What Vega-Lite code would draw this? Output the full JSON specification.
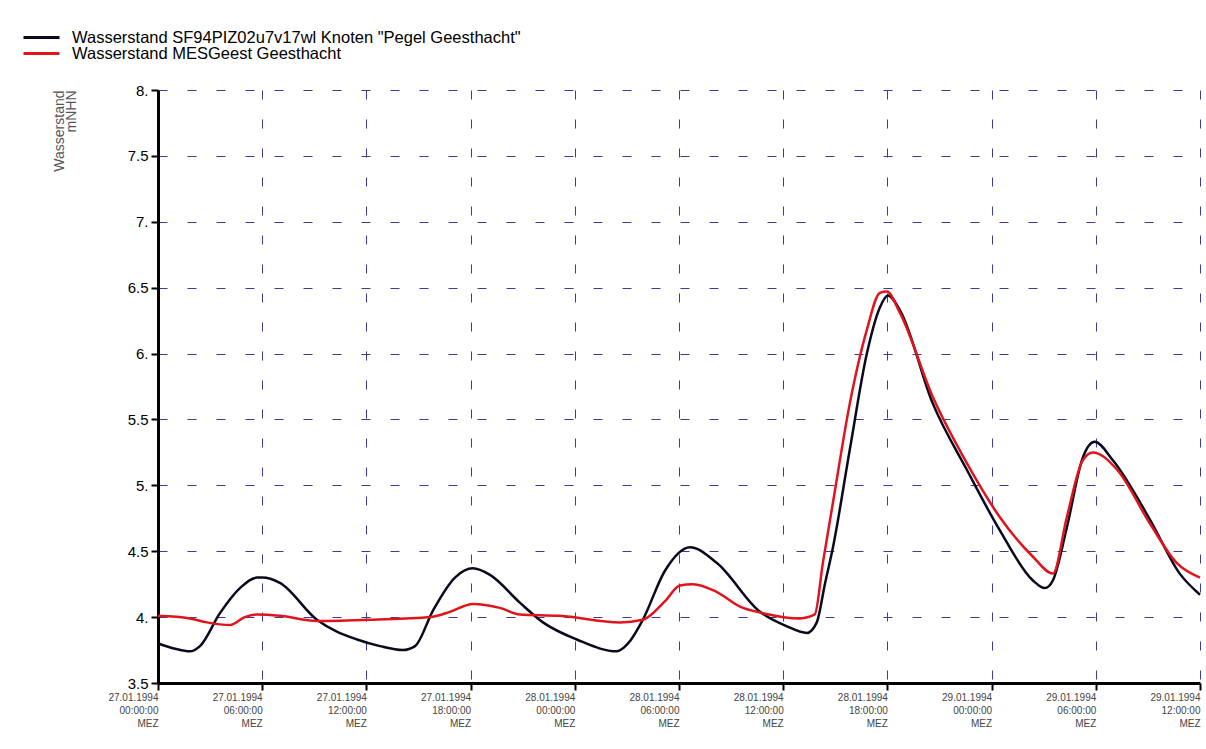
{
  "$schema": "https://vega.github.io/schema/vega-lite/v6.json",
  "width": 1042,
  "height": 593,
  "autosize": {"type": "none"},
  "padding": {"left": 158, "top": 90, "right": 6, "bottom": 66},
  "background": "white",
  "config": {
    "view": {"stroke": null},
    "font": "Liberation Sans"
  },
  "data": {
    "values": [
      {"t": "1994-01-27T00:00Z", "v": 3.80, "s": "Wasserstand SF94PIZ02u7v17wl Knoten \"Pegel Geesthacht\""},
      {"t": "1994-01-27T00:59Z", "v": 3.76, "s": "Wasserstand SF94PIZ02u7v17wl Knoten \"Pegel Geesthacht\""},
      {"t": "1994-01-27T01:50Z", "v": 3.74, "s": "Wasserstand SF94PIZ02u7v17wl Knoten \"Pegel Geesthacht\""},
      {"t": "1994-01-27T02:25Z", "v": 3.78, "s": "Wasserstand SF94PIZ02u7v17wl Knoten \"Pegel Geesthacht\""},
      {"t": "1994-01-27T03:34Z", "v": 4.03, "s": "Wasserstand SF94PIZ02u7v17wl Knoten \"Pegel Geesthacht\""},
      {"t": "1994-01-27T04:43Z", "v": 4.22, "s": "Wasserstand SF94PIZ02u7v17wl Knoten \"Pegel Geesthacht\""},
      {"t": "1994-01-27T05:42Z", "v": 4.30, "s": "Wasserstand SF94PIZ02u7v17wl Knoten \"Pegel Geesthacht\""},
      {"t": "1994-01-27T06:00Z", "v": 4.30, "s": "Wasserstand SF94PIZ02u7v17wl Knoten \"Pegel Geesthacht\""},
      {"t": "1994-01-27T07:01Z", "v": 4.26, "s": "Wasserstand SF94PIZ02u7v17wl Knoten \"Pegel Geesthacht\""},
      {"t": "1994-01-27T09:09Z", "v": 3.98, "s": "Wasserstand SF94PIZ02u7v17wl Knoten \"Pegel Geesthacht\""},
      {"t": "1994-01-27T11:28Z", "v": 3.83, "s": "Wasserstand SF94PIZ02u7v17wl Knoten \"Pegel Geesthacht\""},
      {"t": "1994-01-27T12:47Z", "v": 3.78, "s": "Wasserstand SF94PIZ02u7v17wl Knoten \"Pegel Geesthacht\""},
      {"t": "1994-01-27T14:06Z", "v": 3.75, "s": "Wasserstand SF94PIZ02u7v17wl Knoten \"Pegel Geesthacht\""},
      {"t": "1994-01-27T14:48Z", "v": 3.78, "s": "Wasserstand SF94PIZ02u7v17wl Knoten \"Pegel Geesthacht\""},
      {"t": "1994-01-27T15:50Z", "v": 4.05, "s": "Wasserstand SF94PIZ02u7v17wl Knoten \"Pegel Geesthacht\""},
      {"t": "1994-01-27T17:06Z", "v": 4.30, "s": "Wasserstand SF94PIZ02u7v17wl Knoten \"Pegel Geesthacht\""},
      {"t": "1994-01-27T18:08Z", "v": 4.37, "s": "Wasserstand SF94PIZ02u7v17wl Knoten \"Pegel Geesthacht\""},
      {"t": "1994-01-27T19:07Z", "v": 4.32, "s": "Wasserstand SF94PIZ02u7v17wl Knoten \"Pegel Geesthacht\""},
      {"t": "1994-01-27T20:50Z", "v": 4.11, "s": "Wasserstand SF94PIZ02u7v17wl Knoten \"Pegel Geesthacht\""},
      {"t": "1994-01-27T22:10Z", "v": 3.96, "s": "Wasserstand SF94PIZ02u7v17wl Knoten \"Pegel Geesthacht\""},
      {"t": "1994-01-28T00:07Z", "v": 3.83, "s": "Wasserstand SF94PIZ02u7v17wl Knoten \"Pegel Geesthacht\""},
      {"t": "1994-01-28T02:25Z", "v": 3.74, "s": "Wasserstand SF94PIZ02u7v17wl Knoten \"Pegel Geesthacht\""},
      {"t": "1994-01-28T03:04Z", "v": 3.80, "s": "Wasserstand SF94PIZ02u7v17wl Knoten \"Pegel Geesthacht\""},
      {"t": "1994-01-28T03:55Z", "v": 3.98, "s": "Wasserstand SF94PIZ02u7v17wl Knoten \"Pegel Geesthacht\""},
      {"t": "1994-01-28T05:11Z", "v": 4.35, "s": "Wasserstand SF94PIZ02u7v17wl Knoten \"Pegel Geesthacht\""},
      {"t": "1994-01-28T06:38Z", "v": 4.53, "s": "Wasserstand SF94PIZ02u7v17wl Knoten \"Pegel Geesthacht\""},
      {"t": "1994-01-28T08:11Z", "v": 4.41, "s": "Wasserstand SF94PIZ02u7v17wl Knoten \"Pegel Geesthacht\""},
      {"t": "1994-01-28T10:40Z", "v": 4.04, "s": "Wasserstand SF94PIZ02u7v17wl Knoten \"Pegel Geesthacht\""},
      {"t": "1994-01-28T12:13Z", "v": 3.93, "s": "Wasserstand SF94PIZ02u7v17wl Knoten \"Pegel Geesthacht\""},
      {"t": "1994-01-28T13:22Z", "v": 3.88, "s": "Wasserstand SF94PIZ02u7v17wl Knoten \"Pegel Geesthacht\""},
      {"t": "1994-01-28T13:56Z", "v": 3.96, "s": "Wasserstand SF94PIZ02u7v17wl Knoten \"Pegel Geesthacht\""},
      {"t": "1994-01-28T14:24Z", "v": 4.25, "s": "Wasserstand SF94PIZ02u7v17wl Knoten \"Pegel Geesthacht\""},
      {"t": "1994-01-28T14:52Z", "v": 4.53, "s": "Wasserstand SF94PIZ02u7v17wl Knoten \"Pegel Geesthacht\""},
      {"t": "1994-01-28T15:50Z", "v": 5.27, "s": "Wasserstand SF94PIZ02u7v17wl Knoten \"Pegel Geesthacht\""},
      {"t": "1994-01-28T16:49Z", "v": 6.00, "s": "Wasserstand SF94PIZ02u7v17wl Knoten \"Pegel Geesthacht\""},
      {"t": "1994-01-28T17:34Z", "v": 6.35, "s": "Wasserstand SF94PIZ02u7v17wl Knoten \"Pegel Geesthacht\""},
      {"t": "1994-01-28T18:02Z", "v": 6.44, "s": "Wasserstand SF94PIZ02u7v17wl Knoten \"Pegel Geesthacht\""},
      {"t": "1994-01-28T18:43Z", "v": 6.33, "s": "Wasserstand SF94PIZ02u7v17wl Knoten \"Pegel Geesthacht\""},
      {"t": "1994-01-28T20:37Z", "v": 5.62, "s": "Wasserstand SF94PIZ02u7v17wl Knoten \"Pegel Geesthacht\""},
      {"t": "1994-01-28T22:34Z", "v": 5.12, "s": "Wasserstand SF94PIZ02u7v17wl Knoten \"Pegel Geesthacht\""},
      {"t": "1994-01-29T00:28Z", "v": 4.66, "s": "Wasserstand SF94PIZ02u7v17wl Knoten \"Pegel Geesthacht\""},
      {"t": "1994-01-29T02:22Z", "v": 4.28, "s": "Wasserstand SF94PIZ02u7v17wl Knoten \"Pegel Geesthacht\""},
      {"t": "1994-01-29T03:04Z", "v": 4.22, "s": "Wasserstand SF94PIZ02u7v17wl Knoten \"Pegel Geesthacht\""},
      {"t": "1994-01-29T03:32Z", "v": 4.28, "s": "Wasserstand SF94PIZ02u7v17wl Knoten \"Pegel Geesthacht\""},
      {"t": "1994-01-29T04:20Z", "v": 4.68, "s": "Wasserstand SF94PIZ02u7v17wl Knoten \"Pegel Geesthacht\""},
      {"t": "1994-01-29T05:15Z", "v": 5.21, "s": "Wasserstand SF94PIZ02u7v17wl Knoten \"Pegel Geesthacht\""},
      {"t": "1994-01-29T05:56Z", "v": 5.33, "s": "Wasserstand SF94PIZ02u7v17wl Knoten \"Pegel Geesthacht\""},
      {"t": "1994-01-29T06:59Z", "v": 5.19, "s": "Wasserstand SF94PIZ02u7v17wl Knoten \"Pegel Geesthacht\""},
      {"t": "1994-01-29T09:07Z", "v": 4.74, "s": "Wasserstand SF94PIZ02u7v17wl Knoten \"Pegel Geesthacht\""},
      {"t": "1994-01-29T10:50Z", "v": 4.33, "s": "Wasserstand SF94PIZ02u7v17wl Knoten \"Pegel Geesthacht\""},
      {"t": "1994-01-29T12:00Z", "v": 4.17, "s": "Wasserstand SF94PIZ02u7v17wl Knoten \"Pegel Geesthacht\""},
      {"t": "1994-01-27T00:00Z", "v": 4.01, "s": "Wasserstand MESGeest Geesthacht"},
      {"t": "1994-01-27T01:50Z", "v": 3.99, "s": "Wasserstand MESGeest Geesthacht"},
      {"t": "1994-01-27T02:49Z", "v": 3.96, "s": "Wasserstand MESGeest Geesthacht"},
      {"t": "1994-01-27T04:09Z", "v": 3.94, "s": "Wasserstand MESGeest Geesthacht"},
      {"t": "1994-01-27T05:00Z", "v": 4.00, "s": "Wasserstand MESGeest Geesthacht"},
      {"t": "1994-01-27T05:42Z", "v": 4.02, "s": "Wasserstand MESGeest Geesthacht"},
      {"t": "1994-01-27T07:01Z", "v": 4.01, "s": "Wasserstand MESGeest Geesthacht"},
      {"t": "1994-01-27T09:09Z", "v": 3.97, "s": "Wasserstand MESGeest Geesthacht"},
      {"t": "1994-01-27T12:23Z", "v": 3.98, "s": "Wasserstand MESGeest Geesthacht"},
      {"t": "1994-01-27T15:40Z", "v": 4.00, "s": "Wasserstand MESGeest Geesthacht"},
      {"t": "1994-01-27T16:48Z", "v": 4.04, "s": "Wasserstand MESGeest Geesthacht"},
      {"t": "1994-01-27T18:08Z", "v": 4.10, "s": "Wasserstand MESGeest Geesthacht"},
      {"t": "1994-01-27T19:41Z", "v": 4.07, "s": "Wasserstand MESGeest Geesthacht"},
      {"t": "1994-01-27T20:50Z", "v": 4.02, "s": "Wasserstand MESGeest Geesthacht"},
      {"t": "1994-01-27T23:08Z", "v": 4.01, "s": "Wasserstand MESGeest Geesthacht"},
      {"t": "1994-01-28T02:36Z", "v": 3.96, "s": "Wasserstand MESGeest Geesthacht"},
      {"t": "1994-01-28T03:55Z", "v": 3.98, "s": "Wasserstand MESGeest Geesthacht"},
      {"t": "1994-01-28T05:11Z", "v": 4.12, "s": "Wasserstand MESGeest Geesthacht"},
      {"t": "1994-01-28T06:03Z", "v": 4.24, "s": "Wasserstand MESGeest Geesthacht"},
      {"t": "1994-01-28T06:48Z", "v": 4.25, "s": "Wasserstand MESGeest Geesthacht"},
      {"t": "1994-01-28T08:11Z", "v": 4.19, "s": "Wasserstand MESGeest Geesthacht"},
      {"t": "1994-01-28T09:31Z", "v": 4.08, "s": "Wasserstand MESGeest Geesthacht"},
      {"t": "1994-01-28T10:50Z", "v": 4.03, "s": "Wasserstand MESGeest Geesthacht"},
      {"t": "1994-01-28T12:58Z", "v": 3.99, "s": "Wasserstand MESGeest Geesthacht"},
      {"t": "1994-01-28T13:49Z", "v": 4.02, "s": "Wasserstand MESGeest Geesthacht"},
      {"t": "1994-01-28T14:17Z", "v": 4.41, "s": "Wasserstand MESGeest Geesthacht"},
      {"t": "1994-01-28T14:52Z", "v": 4.87, "s": "Wasserstand MESGeest Geesthacht"},
      {"t": "1994-01-28T15:50Z", "v": 5.62, "s": "Wasserstand MESGeest Geesthacht"},
      {"t": "1994-01-28T16:49Z", "v": 6.18, "s": "Wasserstand MESGeest Geesthacht"},
      {"t": "1994-01-28T17:34Z", "v": 6.46, "s": "Wasserstand MESGeest Geesthacht"},
      {"t": "1994-01-28T17:58Z", "v": 6.47, "s": "Wasserstand MESGeest Geesthacht"},
      {"t": "1994-01-28T18:43Z", "v": 6.31, "s": "Wasserstand MESGeest Geesthacht"},
      {"t": "1994-01-28T20:37Z", "v": 5.67, "s": "Wasserstand MESGeest Geesthacht"},
      {"t": "1994-01-28T22:34Z", "v": 5.17, "s": "Wasserstand MESGeest Geesthacht"},
      {"t": "1994-01-29T00:28Z", "v": 4.76, "s": "Wasserstand MESGeest Geesthacht"},
      {"t": "1994-01-29T02:22Z", "v": 4.46, "s": "Wasserstand MESGeest Geesthacht"},
      {"t": "1994-01-29T03:32Z", "v": 4.33, "s": "Wasserstand MESGeest Geesthacht"},
      {"t": "1994-01-29T04:20Z", "v": 4.76, "s": "Wasserstand MESGeest Geesthacht"},
      {"t": "1994-01-29T05:15Z", "v": 5.19, "s": "Wasserstand MESGeest Geesthacht"},
      {"t": "1994-01-29T05:50Z", "v": 5.25, "s": "Wasserstand MESGeest Geesthacht"},
      {"t": "1994-01-29T07:13Z", "v": 5.12, "s": "Wasserstand MESGeest Geesthacht"},
      {"t": "1994-01-29T09:07Z", "v": 4.71, "s": "Wasserstand MESGeest Geesthacht"},
      {"t": "1994-01-29T10:40Z", "v": 4.41, "s": "Wasserstand MESGeest Geesthacht"},
      {"t": "1994-01-29T12:00Z", "v": 4.30, "s": "Wasserstand MESGeest Geesthacht"}
    ]
  },
  "mark": {"type": "line", "interpolate": "monotone", "strokeWidth": 2.5},
  "encoding": {
    "x": {
      "field": "t",
      "type": "temporal",
      "scale": {"type": "utc", "domain": ["1994-01-27T00:00Z", "1994-01-29T12:00Z"], "nice": false},
      "axis": {
        "title": null,
        "values": [
          "1994-01-27T00:00Z", "1994-01-27T06:00Z", "1994-01-27T12:00Z", "1994-01-27T18:00Z",
          "1994-01-28T00:00Z", "1994-01-28T06:00Z", "1994-01-28T12:00Z", "1994-01-28T18:00Z",
          "1994-01-29T00:00Z", "1994-01-29T06:00Z", "1994-01-29T12:00Z"
        ],
        "labelExpr": "[utcFormat(datum.value, '%d.%m.%Y'), utcFormat(datum.value, '%H:%M:%S'), 'MEZ']",
        "labelAlign": "right",
        "labelBaseline": "top",
        "labelFontSize": 10,
        "labelColor": "#444444",
        "labelLineHeight": 13,
        "labelPadding": 2,
        "labelFlush": false,
        "labelOverlap": false,
        "domainColor": "black",
        "domainWidth": 3,
        "tickColor": "black",
        "tickWidth": 2,
        "tickSize": 7,
        "grid": true,
        "gridColor": "#3c3c96",
        "gridDash": [9, 20],
        "gridWidth": 1
      }
    },
    "y": {
      "field": "v",
      "type": "quantitative",
      "scale": {"domain": [3.5, 8], "nice": false, "zero": false},
      "axis": {
        "title": ["Wasserstand", "mNHN"],
        "titleAngle": -90,
        "titleAlign": "right",
        "titleBaseline": "top",
        "titleX": -106,
        "titleY": 0,
        "titleFontSize": 14,
        "titleFontWeight": "normal",
        "titleColor": "#555555",
        "titleLineHeight": 12,
        "values": [3.5, 4, 4.5, 5, 5.5, 6, 6.5, 7, 7.5, 8],
        "labelExpr": "datum.value % 1 == 0 ? datum.value + '.' : datum.label",
        "labelFontSize": 15,
        "labelColor": "black",
        "labelPadding": 3,
        "labelFlush": false,
        "labelOverlap": false,
        "domainColor": "black",
        "domainWidth": 3,
        "tickColor": "black",
        "tickWidth": 2,
        "tickSize": 7,
        "grid": true,
        "gridColor": "#3c3c96",
        "gridDash": [9, 20],
        "gridWidth": 1
      }
    },
    "color": {
      "field": "s",
      "type": "nominal",
      "sort": null,
      "scale": {
        "domain": ["Wasserstand SF94PIZ02u7v17wl Knoten \"Pegel Geesthacht\"", "Wasserstand MESGeest Geesthacht"],
        "range": ["#0a0a1e", "#e0141c"]
      },
      "legend": {
        "title": null,
        "orient": "none",
        "legendX": -136,
        "legendY": -60,
        "symbolType": "stroke",
        "symbolSize": 1296,
        "symbolStrokeWidth": 3,
        "clipHeight": 15,
        "labelFontSize": 16.5,
        "labelLimit": 0,
        "labelColor": "black",
        "labelOffset": 11,
        "rowPadding": -2,
        "padding": 0
      }
    }
  }
}
